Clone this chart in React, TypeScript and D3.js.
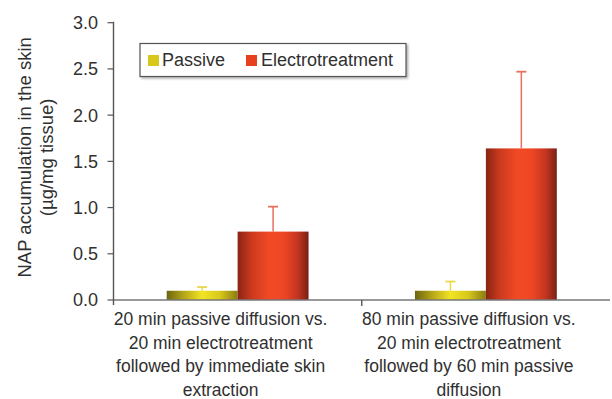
import React from "react";
import * as d3 from "d3";

const categories = [
  ["20 min passive diffusion vs.", "20 min electrotreatment", "followed by immediate skin", "extraction"],
  ["80 min passive diffusion vs.", "20 min electrotreatment", "followed by 60 min passive", "diffusion"],
];
const categoryKeys = ["c1", "c2"];
const seriesNames = ["Passive", "Electrotreatment"];
const passiveValues = [0.1, 0.1];
const passiveErrors = [0.04, 0.1];
const electroValues = [0.74, 1.64];
const electroErrors = [0.27, 0.83];
const yTicks = [0, 0.5, 1.0, 1.5, 2.0, 2.5, 3.0];

const W = 612;
const H = 399;
const left = 113.5;
const right = 610;
const bottom = 300;
const top = 22.7;
const FONT = "'Liberation Sans', Arial, sans-serif";
const TXT = "#303030";

export default function App() {
  const y = d3.scaleLinear().domain([0, 3]).range([bottom, top]);
  const x = d3.scaleBand<string>().domain(categoryKeys).range([left, right]).padding(0);
  const inner = d3
    .scaleBand<string>()
    .domain(seriesNames)
    .range([0, x.bandwidth()])
    .paddingInner(0)
    .paddingOuter(0.75);

  const series = [
    { name: seriesNames[0], values: passiveValues, errors: passiveErrors, fill: "url(#gPassive)", err: "#e8d84a", swatch: "#d8c81a" },
    { name: seriesNames[1], values: electroValues, errors: electroErrors, fill: "url(#gElectro)", err: "#e87060", swatch: "#e8401e" },
  ];
  const labelX = (c: string) => (x(c) as number) + x.bandwidth() / 2 - 17;

  return (
    <svg width={W} height={H} style={{ position: "absolute", left: 0, top: 0, background: "#fff" }} fontFamily={FONT}>
      <defs>
        <linearGradient id="gPassive" x1="0" x2="1" y1="0" y2="0">
          <stop offset="0" stopColor="#6e6410" />
          <stop offset="0.25" stopColor="#b8a818" />
          <stop offset="0.5" stopColor="#f2e424" />
          <stop offset="0.75" stopColor="#d8c81c" />
          <stop offset="1" stopColor="#8a7c10" />
        </linearGradient>
        <linearGradient id="gElectro" x1="0" x2="1" y1="0" y2="0">
          <stop offset="0" stopColor="#8a2414" />
          <stop offset="0.2" stopColor="#cc3a1e" />
          <stop offset="0.45" stopColor="#f24a26" />
          <stop offset="0.65" stopColor="#ee4624" />
          <stop offset="0.85" stopColor="#c23420" />
          <stop offset="1" stopColor="#7a2014" />
        </linearGradient>
        <filter id="shadow" x="-5%" y="-10%" width="115%" height="140%">
          <feDropShadow dx="1.5" dy="1.5" stdDeviation="0.8" floodColor="#000" floodOpacity="0.35" />
        </filter>
      </defs>

      {/* bars */}
      {series.map((s) =>
        categoryKeys.map((c, i) => {
          const bx = (x(c) as number) + (inner(s.name) as number);
          const bw = inner.bandwidth();
          const v = s.values[i];
          const cx = bx + bw / 2;
          return (
            <g key={s.name + c}>
              <line x1={cx} x2={cx} y1={y(v)} y2={y(v + s.errors[i])} stroke={s.err} strokeWidth={1.5} />
              <line x1={cx - 5} x2={cx + 5} y1={y(v + s.errors[i])} y2={y(v + s.errors[i])} stroke={s.err} strokeWidth={1.8} />
              <rect x={bx} y={y(v)} width={bw} height={y(0) - y(v)} fill={s.fill} />
            </g>
          );
        })
      )}

      {/* axes */}
      <line x1={left} x2={right} y1={bottom} y2={bottom} stroke="#777" strokeWidth={1.6} />
      <line x1={left} x2={left} y1={top - 1} y2={bottom + 5} stroke="#555" strokeWidth={1.4} />
      {yTicks.map((t) => (
        <g key={t}>
          <line x1={left - 6} x2={left} y1={y(t)} y2={y(t)} stroke="#555" strokeWidth={1.2} />
          <text x={98} y={y(t)} dy="0.36em" textAnchor="end" fontSize={18} fill={TXT}>
            {d3.format(".1f")(t)}
          </text>
        </g>
      ))}
      {categoryKeys.slice(1).map((c) => (
        <line key={c} x1={x(c)} x2={x(c)} y1={bottom} y2={bottom + 6} stroke="#555" strokeWidth={1.4} />
      ))}

      {/* category labels */}
      {categoryKeys.map((c, i) => (
        <text key={c} x={labelX(c)} y={325} textAnchor="middle" fontSize={17.5} fill={TXT}>
          {categories[i].map((line, j) => (
            <tspan key={j} x={labelX(c)} dy={j === 0 ? 0 : 23.7}>
              {line}
            </tspan>
          ))}
        </text>
      ))}

      {/* y title */}
      <text transform={`translate(31,${(top + bottom) / 2 - 4}) rotate(-90)`} textAnchor="middle" fontSize={18.5} fill={TXT}>
        NAP accumulation in the skin
      </text>
      <text transform={`translate(53,${(top + bottom) / 2 - 4}) rotate(-90)`} textAnchor="middle" fontSize={18.5} fill={TXT}>
        (µg/mg tissue)
      </text>

      {/* legend */}
      <rect x={140} y={43.5} width={266} height={33} fill="#fff" stroke="#555" strokeWidth={1.2} filter="url(#shadow)" />
      <rect x={148} y={55} width={11} height={11} fill={series[0].swatch} />
      <text x={162} y={66} fontSize={18} fill={TXT}>{seriesNames[0]}</text>
      <rect x={246} y={55} width={11} height={11} fill={series[1].swatch} />
      <text x={261} y={66} fontSize={18} fill={TXT}>{seriesNames[1]}</text>
    </svg>
  );
}
